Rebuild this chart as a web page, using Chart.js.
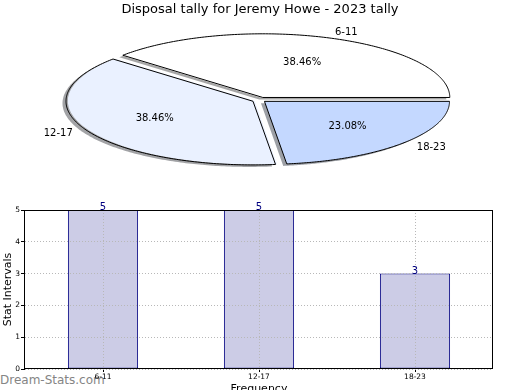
<!DOCTYPE html>
<html>
<head>
<meta charset="utf-8">
<script src="https://cdn.jsdelivr.net/npm/chart.js@4.4.1/dist/chart.umd.min.js"></script>
<style>
  html, body { margin: 0; padding: 0; background: #fff; overflow: hidden; }
  #wrap { position: relative; width: 520px; height: 390px; overflow: hidden; }
  #barChart, #pieChart { position: absolute; left: 0; top: 0; }
  #mark { position: absolute; left: 0; top: 373px; font: 12px 'DejaVu Sans'; color: #858585; white-space: nowrap; }
</style>
</head>
<body>
<div id="wrap">
  <div id="mark">Dream-Stats.com</div>
  <canvas id="barChart" width="520" height="400"></canvas>
  <canvas id="pieChart" width="520" height="190"></canvas>
</div>
<script>
const chartTitle = 'Disposal tally for Jeremy Howe - 2023 tally';
const categories = ['6-11', '12-17', '18-23'];
const tallies = [5, 5, 3];
const yTicks = [0, 1, 2, 3, 4, 5];
const sliceColours = ['#ffffff', '#eaf1ff', '#c4d8ff'];

// where the flattened pie sits on the page
const PIE_CX = 260, PIE_CY = 100, PIE_RX = 185, PIE_RY = 63;
const FONT = "'DejaVu Sans', sans-serif";

const total = tallies.reduce((s, v) => s + v, 0);

function hexRgb(h) {
    const n = parseInt(h.slice(1), 16);
    return [(n >> 16) & 255, (n >> 8) & 255, n & 255];
}

// chart space -> page space (squashed and flipped so slices run anticlockwise)
function pieMap(arc) {
    const sx = PIE_RX / arc.outerRadius, sy = -PIE_RY / arc.outerRadius;
    return (px, py) => ({ x: PIE_CX + (px - arc.x) * sx, y: PIE_CY + (py - arc.y) * sy });
}

// same displacement the arc element applies for its offset
function arcGeom(arc) {
    const off = (arc.options.offset || 0) / 4;
    const circ = arc.endAngle - arc.startAngle;
    const fix = 1 - Math.sin(Math.min(Math.PI, circ));
    const ro = off * fix;
    const mid = (arc.startAngle + arc.endAngle) / 2;
    return {
        cx: arc.x + Math.cos(mid) * (off + ro),
        cy: arc.y + Math.sin(mid) * (off + ro),
        r: arc.outerRadius + ro,
        mid: mid
    };
}

function wedgePath(ctx, arc, dx, dy) {
    const m = pieMap(arc), g = arcGeom(arc);
    ctx.beginPath();
    let p = m(g.cx, g.cy);
    ctx.moveTo(p.x + dx, p.y + dy);
    const n = 160;
    for (let i = 0; i <= n; i++) {
        const t = arc.startAngle + (arc.endAngle - arc.startAngle) * i / n;
        p = m(g.cx + Math.cos(t) * g.r, g.cy + Math.sin(t) * g.r);
        ctx.lineTo(p.x + dx, p.y + dy);
    }
    ctx.closePath();
}

const ellipsePie = {
    id: 'ellipsePie',
    beforeDatasetsDraw(chart) {
        const ctx = chart.ctx;
        const arcs = chart.getDatasetMeta(0).data;
        // shadows under every slice
        arcs.forEach((arc, i) => {
            const c = hexRgb(sliceColours[i]).map(v => Math.round(v * 0.3));
            ctx.save();
            ctx.fillStyle = `rgba(${c[0]},${c[1]},${c[2]},0.5)`;
            wedgePath(ctx, arc, -3.5, 2);
            ctx.fill();
            ctx.restore();
        });
        const a = arcs[0];
        ctx.save();
        ctx.translate(PIE_CX, PIE_CY);
        ctx.scale(PIE_RX / a.outerRadius, -PIE_RY / a.outerRadius);
        ctx.translate(-a.x, -a.y);
    },
    afterDatasetsDraw(chart) {
        const ctx = chart.ctx;
        ctx.restore();
        const arcs = chart.getDatasetMeta(0).data;
        arcs.forEach((arc, i) => {
            ctx.save();
            ctx.strokeStyle = '#000';
            ctx.lineWidth = 1;
            ctx.lineJoin = 'miter';
            wedgePath(ctx, arc, 0, 0);
            ctx.stroke();

            const m = pieMap(arc), g = arcGeom(arc);
            const R = arc.outerRadius;
            ctx.fillStyle = '#000';
            ctx.font = '10px ' + FONT;
            ctx.textBaseline = 'middle';
            const lp = m(g.cx + Math.cos(g.mid) * R * 1.1, g.cy + Math.sin(g.mid) * R * 1.1);
            ctx.textAlign = Math.cos(g.mid) > 0 ? 'left' : 'right';
            ctx.fillText(categories[i], lp.x, lp.y);
            const pp = m(g.cx + Math.cos(g.mid) * R * 0.6, g.cy + Math.sin(g.mid) * R * 0.6);
            ctx.textAlign = 'center';
            ctx.fillText((tallies[i] / total * 100).toFixed(2) + '%', pp.x, pp.y);
            ctx.restore();
        });
    }
};

new Chart(document.getElementById('pieChart'), {
    type: 'pie',
    data: {
        labels: categories,
        datasets: [{
            data: tallies,
            backgroundColor: sliceColours,
            borderWidth: 0,
            offset: 10,
            rotation: 90,
            clip: false
        }]
    },
    options: {
        responsive: false,
        animation: false,
        events: [],
        layout: { padding: 0 },
        plugins: {
            legend: { display: false },
            tooltip: { enabled: false },
            title: {
                display: true,
                text: chartTitle,
                color: '#000',
                font: { family: FONT, size: 13, weight: 'normal' },
                padding: { top: 2, bottom: 6 }
            }
        }
    },
    plugins: [ellipsePie]
});

const barExtras = {
    id: 'barExtras',
    afterDraw(chart) {
        const ctx = chart.ctx;
        const a = chart.chartArea;
        ctx.save();
        ctx.strokeStyle = '#000';
        ctx.lineWidth = 1;
        ctx.strokeRect(Math.round(a.left) - 0.5, Math.round(a.top) + 0.5,
            Math.round(a.right - a.left), Math.round(a.bottom - a.top) - 1);

        ctx.fillStyle = '#000080';
        ctx.font = '10px ' + FONT;
        ctx.textAlign = 'center';
        ctx.textBaseline = 'alphabetic';
        chart.getDatasetMeta(0).data.forEach((bar, i) => {
            ctx.fillText(String(tallies[i]), bar.x, bar.y);
        });
        ctx.restore();
    }
};

new Chart(document.getElementById('barChart'), {
    type: 'bar',
    data: {
        labels: categories,
        datasets: [{
            data: tallies,
            backgroundColor: '#ccccE6',
            borderColor: '#000080',
            borderWidth: 1,
            borderSkipped: false,
            barPercentage: 0.45,
            categoryPercentage: 1
        }]
    },
    options: {
        responsive: false,
        animation: false,
        events: [],
        layout: { padding: { top: 210, right: 27, left: 0, bottom: 0 } },
        plugins: {
            legend: { display: false },
            tooltip: { enabled: false }
        },
        scales: {
            x: {
                afterFit: s => { s.height = 31; },
                grid: { offset: false, z: 1, color: '#b8b8b8', tickColor: '#000', tickLength: 3 },
                border: { display: false, dash: [1, 2] },
                ticks: { color: '#000', padding: 1, font: { family: FONT, size: 7.5 } },
                title: {
                    display: true, text: 'Frequency', color: '#000',
                    font: { family: FONT, size: 11 }, padding: { top: 0, bottom: 4 }
                }
            },
            y: {
                min: 0,
                max: 5,
                afterFit: s => { s.width = 25; },
                afterBuildTicks: s => { s.ticks = yTicks.map(v => ({ value: v })); },
                grid: { z: 1, color: '#b8b8b8', tickColor: '#000', tickLength: 4 },
                border: { display: false, dash: [1, 2] },
                ticks: { color: '#000', padding: 1, font: { family: FONT, size: 7.5 } },
                title: {
                    display: true, text: 'Stat Intervals', color: '#000',
                    font: { family: FONT, size: 11 }, padding: { top: 2, bottom: 0 }
                }
            }
        }
    },
    plugins: [barExtras]
});
</script>
</body>
</html>
